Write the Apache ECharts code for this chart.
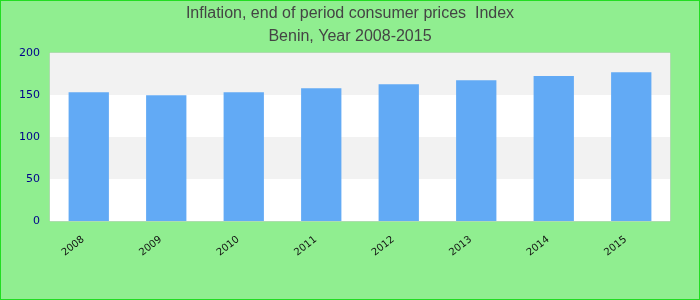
<!DOCTYPE html>
<html>
<head>
<meta charset="utf-8">
<script src="https://cdn.jsdelivr.net/npm/echarts@6/dist/echarts.min.js"></script>
<style>
  html, body { margin: 0; padding: 0; }
  #chart {
    width: 698px;
    height: 298px;
    border: 1px solid #22dd22;
    background: #90ee90;
  }
</style>
</head>
<body>
<div id="chart"></div>
<script>
// 数据
const years = ['2008', '2009', '2010', '2011', '2012', '2013', '2014', '2015'];
const indexValues = [153.3, 149.7, 153.3, 158.1, 162.9, 167.7, 172.5, 177.2];
const yTicks = [0, 50, 100, 150, 200];

const chart = echarts.init(document.getElementById('chart'));
const option = {
  backgroundColor: 'transparent',
  title: {
    text: 'Inflation, end of period consumer prices  Index\nBenin, Year 2008-2015',
    left: 'center',
    top: -4,
    textStyle: {
      color: '#444',
      fontSize: 16,
      fontWeight: 'normal',
      fontFamily: 'Liberation Sans, Arial, sans-serif',
      lineHeight: 23,
    },
  },
  grid: {
    left: 49,
    right: 29,
    top: 52,
    bottom: 78,
    show: true,
    borderColor: '#cccccc',
    borderWidth: 1,
    backgroundColor: '#ffffff',
  },
  xAxis: {
    type: 'category',
    data: years,
    axisLine: { show: false },
    axisTick: { show: false },
    axisLabel: {
      rotate: 38,
      color: '#111',
      fontSize: 10,
      margin: 13,
      padding: [0, 7, 0, 0],
      fontFamily: 'DejaVu Sans, sans-serif',
    },
  },
  yAxis: {
    type: 'value',
    min: yTicks[0],
    max: yTicks[yTicks.length - 1],
    interval: 50,
    axisLine: { show: false },
    axisTick: { show: false },
    splitLine: { show: false },
    splitArea: {
      show: true,
      areaStyle: { color: ['#ffffff', '#f2f2f2'] },
    },
    axisLabel: {
      color: '#00008b',
      fontSize: 11,
      margin: 10,
      fontFamily: 'DejaVu Sans, sans-serif',
    },
  },
  series: [
    {
      name: 'Index',
      type: 'bar',
      data: indexValues,
      barWidth: '52%',
      itemStyle: { color: '#62aaf5' },
    },
  ],
};
chart.setOption(option);
</script>
</body>
</html>
